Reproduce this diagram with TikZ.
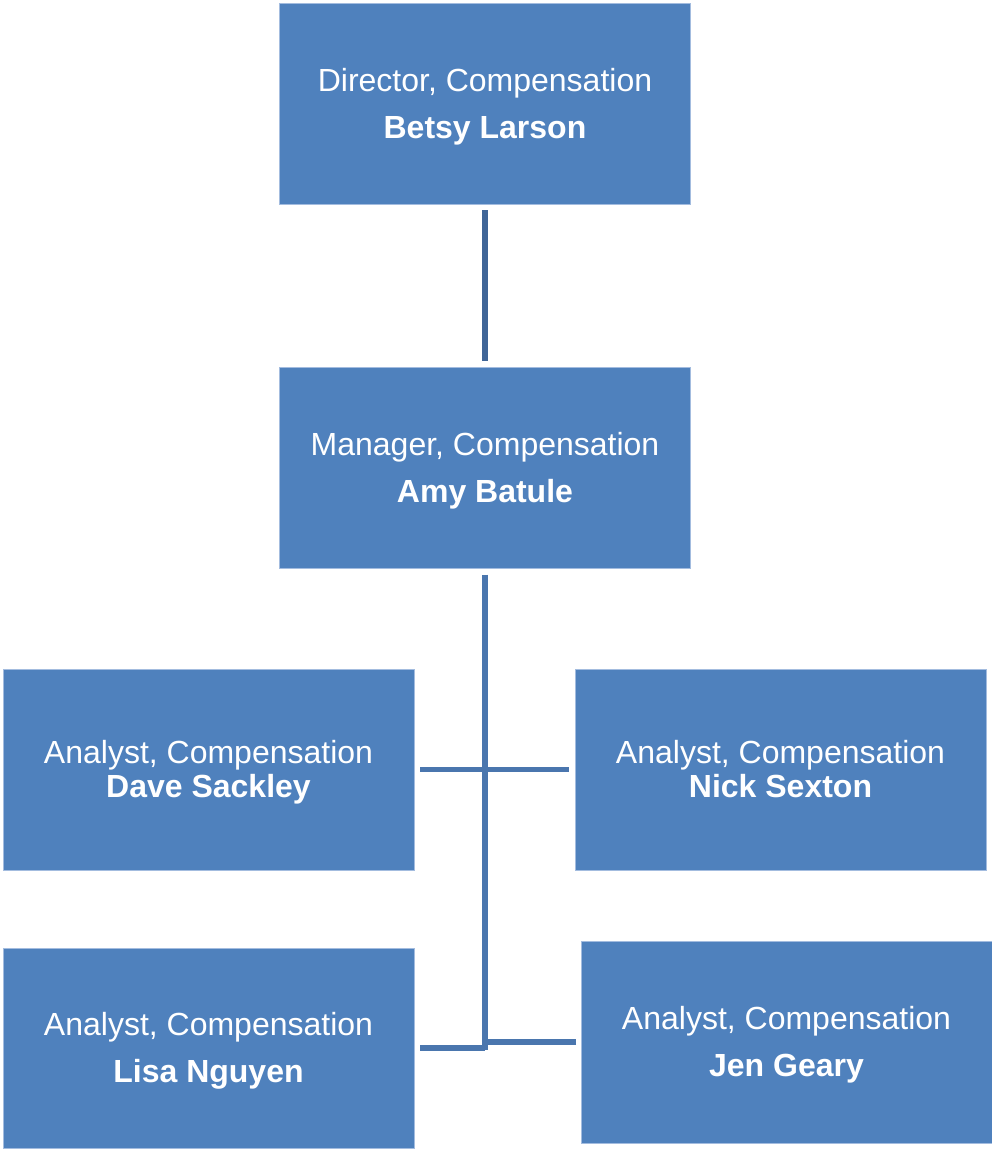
\documentclass[tikz,border=0pt]{standalone}
\usepackage{fontspec}
\setmainfont{Liberation Sans}
\definecolor{boxfill}{HTML}{4F81BD}
\definecolor{boxedge}{HTML}{A3BCDF}
\definecolor{linetop}{HTML}{3F6597}
\definecolor{linemain}{HTML}{4A76AE}
\newcommand\topsp{\rule{0pt}{29.5pt}}
\newcommand\botsp{\rule[-6.8pt]{0pt}{0pt}}
\begin{document}
\begin{tikzpicture}[x=1pt,y=-1pt,
  box/.style={rectangle, fill=boxfill, draw=boxedge, line width=0.8pt,
    inner sep=0pt, outer sep=0pt, text=white, align=center,
    minimum width=411pt, minimum height=201pt},
  wide/.style={font=\fontsize{32}{47}\selectfont},
  tight/.style={font=\fontsize{32}{34}\selectfont},
  conn/.style={line width=5.5pt, color=linemain}
]
\useasboundingbox (0,0) rectangle (992,1150);
\node[box,wide] (dir) at (485,104) {\topsp Director, Compensation\\\textbf{Betsy Larson}\botsp};
\node[box,wide] (mgr) at (485,468) {\topsp Manager, Compensation\\\textbf{Amy Batule}\botsp};
\node[box,tight] (dave) at (208.5,769.5) {\topsp Analyst, Compensation\\\textbf{Dave Sackley}\botsp};
\node[box,tight] (nick) at (780.5,769.5) {\topsp Analyst, Compensation\\\textbf{Nick Sexton}\botsp};
\node[box,wide,minimum height=200pt] (lisa) at (208.5,1048) {\topsp Analyst, Compensation\\\textbf{Lisa Nguyen}\botsp};
\node[box,wide,minimum height=202pt] (jen) at (786.5,1042) {\topsp Analyst, Compensation\\\textbf{Jen Geary}\botsp};
\coordinate (trunkend) at (485,1050);
\coordinate (lisajoin) at (485,1048);
\coordinate (jenjoin) at (485,1042);
\draw[line width=5.5pt, color=linetop, shorten <=6pt, shorten >=7pt] (dir.south) -- (mgr.north);
\draw[conn, shorten <=6pt] (mgr.south) -- (trunkend);
\draw[conn, shorten <=6pt, shorten >=6pt] (dave.east) -- (nick.west);
\draw[conn, shorten <=6pt] (lisa.east) -- (lisajoin);
\draw[conn, shorten <=5pt] (jen.west) -- (jenjoin);
\end{tikzpicture}
\end{document}
